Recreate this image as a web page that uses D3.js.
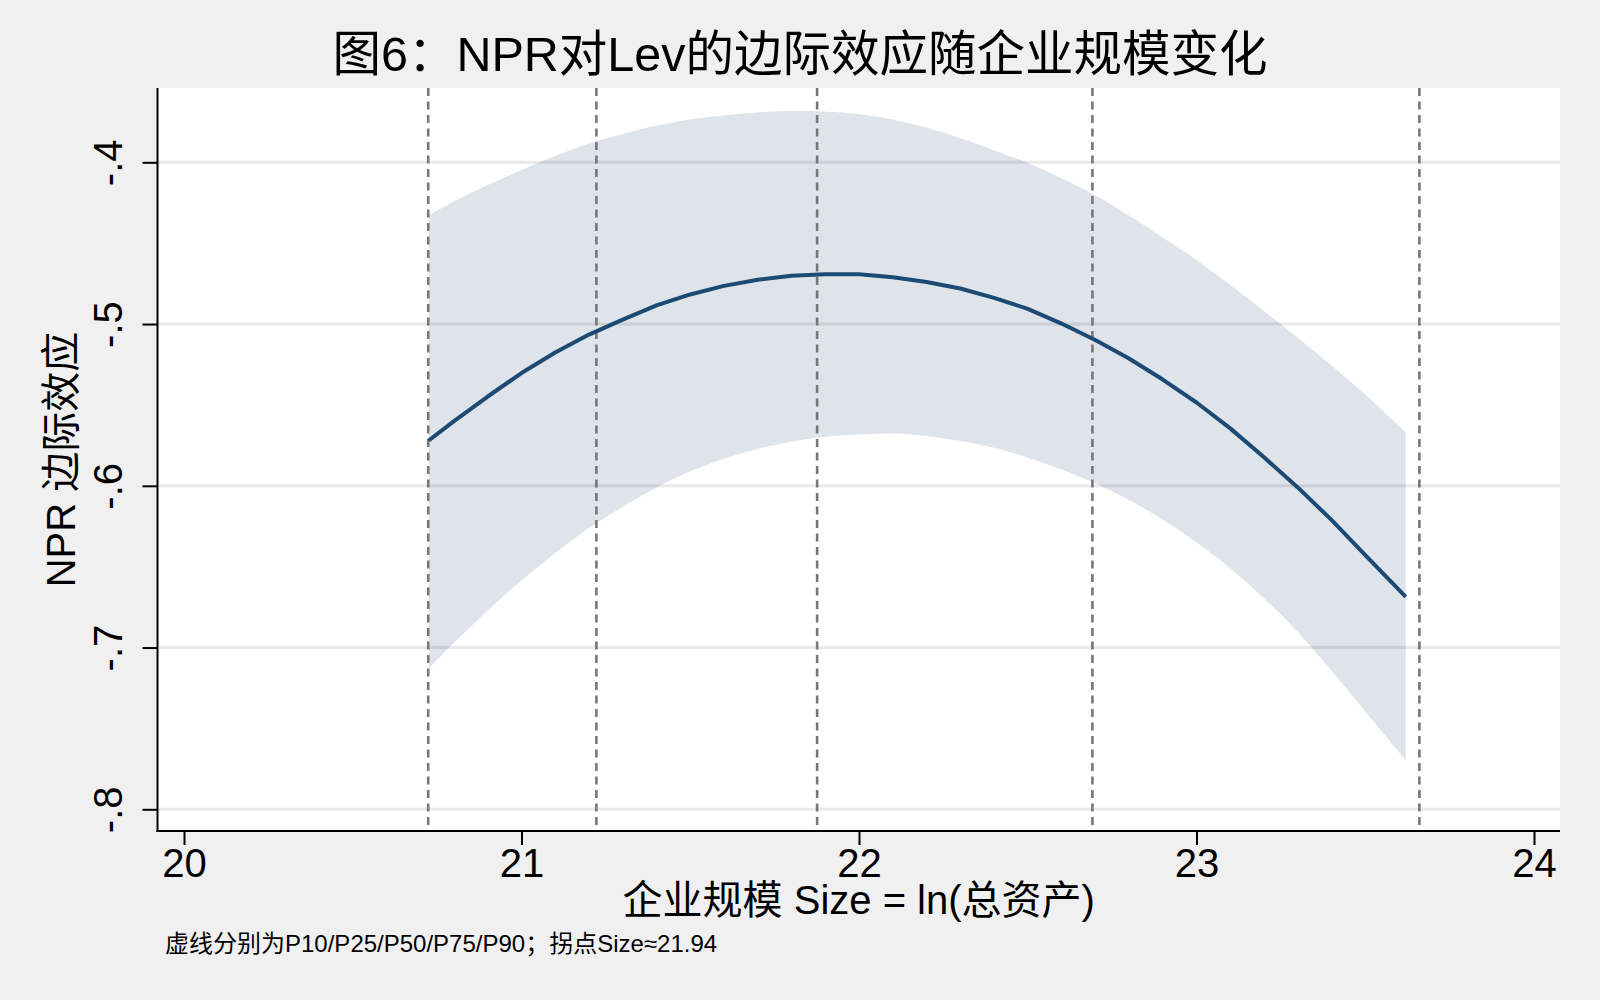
<!DOCTYPE html>
<html>
<head>
<meta charset="utf-8">
<script src="https://cdn.jsdelivr.net/npm/d3@7"></script>
<style>
  html, body { margin: 0; padding: 0; background: #f0f0f0; }
  svg { display: block; }
  text { font-family: "Liberation Sans", Arial, "Noto Sans CJK SC", sans-serif; fill: #000; }
</style>
</head>
<body>
<svg id="chart" width="1600" height="1000"></svg>
<script>
// ---- data ----
const sizeGrid = [20.725, 20.8, 20.9, 21.0, 21.1, 21.2, 21.3, 21.4, 21.5, 21.6, 21.7, 21.8, 21.9,
  22.0, 22.1, 22.2, 22.3, 22.4, 22.5, 22.6, 22.7, 22.8, 22.9, 23.0, 23.1, 23.2, 23.3, 23.4, 23.5, 23.6, 23.62];
const marginalEffect = [-0.572, -0.560, -0.5448, -0.5303, -0.5176, -0.5065, -0.4973, -0.4885, -0.4817,
  -0.4764, -0.4726, -0.4702, -0.4692, -0.4692, -0.4711, -0.4740, -0.4780, -0.4838, -0.4906, -0.4997,
  -0.5099, -0.5213, -0.5343, -0.5485, -0.5645, -0.5824, -0.6010, -0.6211, -0.6428, -0.6644, -0.6687];
const ciUpper = [-0.4326, -0.4242, -0.4140, -0.4047, -0.3961, -0.3884, -0.3825, -0.3772, -0.3735,
  -0.3710, -0.3692, -0.3683, -0.3686, -0.3703, -0.3735, -0.3785, -0.3850, -0.3925, -0.4004, -0.4098,
  -0.4203, -0.4329, -0.4465, -0.4604, -0.4757, -0.4919, -0.5085, -0.5256, -0.5436, -0.5631, -0.5670];
const ciLower = [-0.7129, -0.6971, -0.6771, -0.6586, -0.6416, -0.6261, -0.6130, -0.6010, -0.5910,
  -0.5832, -0.5772, -0.5726, -0.5697, -0.5681, -0.5677, -0.5692, -0.5723, -0.5765, -0.5826, -0.5899,
  -0.5985, -0.6088, -0.6209, -0.6351, -0.6509, -0.6696, -0.6904, -0.7144, -0.7396, -0.7648, -0.7699];
const percentileLines = [20.7236, 21.2219, 21.8759, 22.6916, 23.6604]; // P10/P25/P50/P75/P90
const xTicks = [20, 21, 22, 23, 24];
const xTickLabels = ["20", "21", "22", "23", "24"];
const yTicks = [-0.8, -0.7, -0.6, -0.5, -0.4];
const yTickLabels = ["-.8", "-.7", "-.6", "-.5", "-.4"];
const titleText = "图6：NPR对Lev的边际效应随企业规模变化";
const xTitle = "企业规模 Size = ln(总资产)";
const yTitle = "NPR 边际效应";
const noteText = "虚线分别为P10/P25/P50/P75/P90；拐点Size≈21.94";

// ---- layout ----
const plot = { left: 157.5, right: 1560, top: 88, bottom: 831 };
const svg = d3.select("#chart");

const x = d3.scaleLinear().domain([20, 24]).range([184, 1534]);
const y = d3.scaleLinear().domain([-0.8, -0.4]).range([809.3, 162.3]);

svg.append("rect").attr("x", 0).attr("y", 0).attr("width", 1600).attr("height", 1000).attr("fill", "#f0f0f0");
svg.append("rect").attr("x", plot.left).attr("y", plot.top)
  .attr("width", plot.right - plot.left).attr("height", plot.bottom - plot.top).attr("fill", "#ffffff");

const rows = sizeGrid.map((s, i) => ({ s, m: marginalEffect[i], lo: ciLower[i], hi: ciUpper[i] }));

// confidence band
svg.append("path").datum(rows)
  .attr("fill", "#dfe3ea")
  .attr("d", d3.area().curve(d3.curveMonotoneX).x(d => x(d.s)).y0(d => y(d.lo)).y1(d => y(d.hi)));

// grid lines
svg.append("g").selectAll("line").data(yTicks).join("line")
  .attr("x1", plot.left).attr("x2", plot.right)
  .attr("y1", d => y(d)).attr("y2", d => y(d))
  .attr("stroke", "rgba(0,0,0,0.085)").attr("stroke-width", 3);

// percentile dashed lines
svg.append("g").selectAll("line").data(percentileLines).join("line")
  .attr("x1", d => x(d)).attr("x2", d => x(d))
  .attr("y1", plot.top).attr("y2", plot.bottom)
  .attr("stroke", "#777777").attr("stroke-width", 2.6).attr("stroke-dasharray", "8,5.5");

// marginal effect line
svg.append("path").datum(rows)
  .attr("fill", "none").attr("stroke", "#1b4a75").attr("stroke-width", 4)
  .attr("stroke-linejoin", "round")
  .attr("d", d3.line().x(d => x(d.s)).y(d => y(d.m)));

// axes
const yAxis = d3.axisLeft(y).tickValues(yTicks).tickSizeInner(15).tickSizeOuter(0)
  .tickFormat((d, i) => yTickLabels[i]);
const gy = svg.append("g").attr("transform", `translate(${plot.left},0)`).call(yAxis);
gy.select(".domain").remove();
gy.selectAll(".tick line").attr("stroke", "#000").attr("stroke-width", 2);
gy.selectAll(".tick text")
  .attr("transform", "rotate(-90)")
  .attr("x", 0).attr("y", -35.5).attr("dy", 0)
  .attr("text-anchor", "middle")
  .style("font-size", "40px")
  .style("font-family", "'Liberation Sans', Arial, sans-serif")
  .attr("fill", "#000");

const xAxis = d3.axisBottom(x).tickValues(xTicks).tickSizeInner(14).tickSizeOuter(0)
  .tickFormat((d, i) => xTickLabels[i]);
const gx = svg.append("g").attr("transform", `translate(0,${plot.bottom})`).call(xAxis);
gx.select(".domain").remove();
gx.selectAll(".tick line").attr("stroke", "#000").attr("stroke-width", 2);
gx.selectAll(".tick text")
  .attr("y", 46).attr("dy", 0)
  .style("font-size", "40px")
  .style("font-family", "'Liberation Sans', Arial, sans-serif")
  .attr("fill", "#000");

// axis lines
svg.append("line").attr("x1", plot.left).attr("x2", plot.left).attr("y1", plot.top).attr("y2", plot.bottom + 1)
  .attr("stroke", "#000").attr("stroke-width", 2);
svg.append("line").attr("x1", plot.left - 1).attr("x2", plot.right).attr("y1", plot.bottom).attr("y2", plot.bottom)
  .attr("stroke", "#000").attr("stroke-width", 2);

// titles
svg.append("text").attr("x", 800).attr("y", 71).attr("text-anchor", "middle")
  .style("font-size", "48.5px").text(titleText);
svg.append("text").attr("x", (plot.left + plot.right) / 2).attr("y", 914).attr("text-anchor", "middle")
  .style("font-size", "40px").text(xTitle);
svg.append("text").attr("transform", `translate(75,${(plot.top + plot.bottom) / 2}) rotate(-90)`)
  .attr("text-anchor", "middle").style("font-size", "40px").text(yTitle);
svg.append("text").attr("x", 165).attr("y", 952).attr("text-anchor", "start")
  .style("font-size", "24px").text(noteText);
</script>
</body>
</html>
